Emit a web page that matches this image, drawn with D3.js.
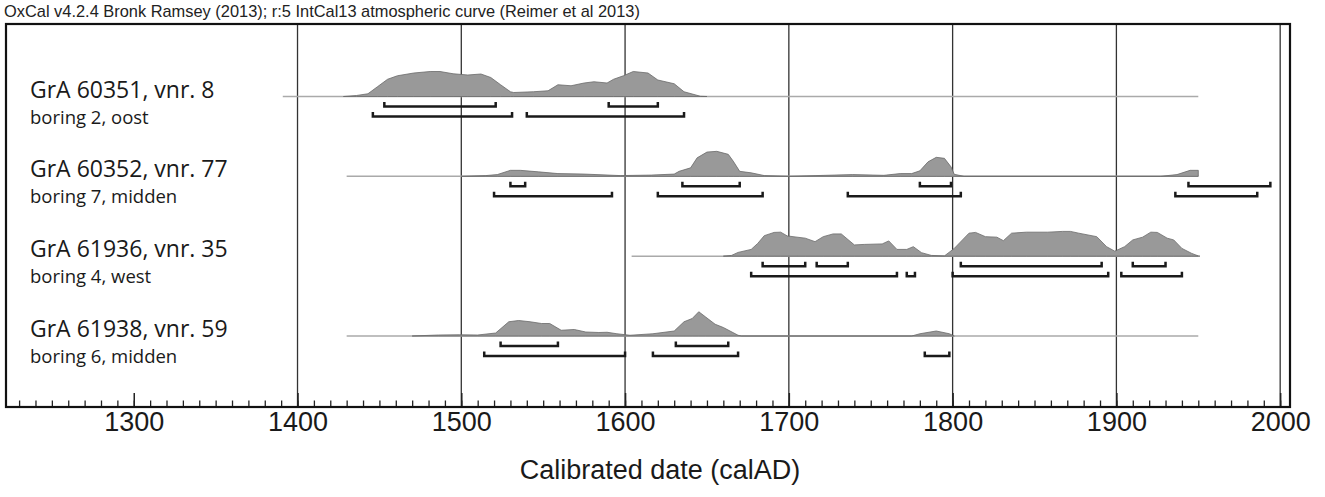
<!DOCTYPE html>
<html>
<head>
<meta charset="utf-8">
<script src="https://cdn.jsdelivr.net/npm/d3@7"></script>
<style>
  body { margin: 0; background: #fff; }
  svg { display: block; }
</style>
</head>
<body>
<svg id="chart" width="1325" height="497"></svg>
<script>
// sample labels
const sampleNames = ["GrA 60351, vnr. 8", "GrA 60352, vnr. 77", "GrA 61936, vnr. 35", "GrA 61938, vnr. 59"];
const sampleSites = ["boring 2, oost", "boring 7, midden", "boring 4, west", "boring 6, midden"];

// extent of the thin base line of each distribution (calAD)
const baseRanges = [[1391, 1950], [1430, 1950], [1604, 1950], [1430, 1950]];

// probability profiles, [year, relative probability]
const prob1 = [[1428, 0], [1436, 0.04], [1443, 0.11], [1449, 0.4], [1455, 0.69], [1461, 0.83], [1471, 0.94], [1481, 1.0],
  [1487, 1.0], [1495, 0.91], [1504, 0.86], [1512, 0.9], [1518, 0.76], [1524, 0.47], [1530, 0.19], [1532, 0.16],
  [1544, 0.19], [1553, 0.23], [1559, 0.47], [1567, 0.43], [1575, 0.54], [1581, 0.59], [1589, 0.54], [1593, 0.69],
  [1599, 0.83], [1605, 1.0], [1614, 0.94], [1620, 0.66], [1630, 0.51], [1636, 0.19], [1646, 0.01], [1650, 0]];
const prob2 = [[1500, 0], [1515, 0.03], [1522, 0.07], [1530, 0.24], [1536, 0.24], [1547, 0.18], [1559, 0.11], [1575, 0.09],
  [1597, 0.03], [1616, 0.05], [1630, 0.09], [1633, 0.2], [1640, 0.34], [1644, 0.74], [1650, 0.97], [1656, 1.0],
  [1663, 0.88], [1666, 0.61], [1670, 0.2], [1677, 0.14], [1685, 0.03], [1700, 0], [1739, 0.07], [1758, 0.04],
  [1768, 0.11], [1775, 0.11], [1780, 0.22], [1785, 0.58], [1790, 0.76], [1795, 0.72], [1799, 0.38], [1801, 0.08],
  [1807, 0], [1927, 0], [1937, 0.07], [1945, 0.24], [1950, 0.24], [1950, 0]];
const prob3 = [[1660, 0], [1665, 0.03], [1669, 0.15], [1677, 0.27], [1681, 0.51], [1685, 0.82], [1691, 0.95], [1695, 0.96],
  [1699, 0.81], [1705, 0.76], [1710, 0.72], [1716, 0.58], [1721, 0.78], [1727, 0.89], [1732, 0.89], [1740, 0.45],
  [1746, 0.47], [1757, 0.49], [1761, 0.61], [1766, 0.27], [1772, 0.27], [1776, 0.38], [1781, 0.14], [1787, 0.03],
  [1795, 0.01], [1801, 0.31], [1810, 0.92], [1814, 0.95], [1820, 0.78], [1827, 0.76], [1831, 0.62], [1836, 0.92],
  [1845, 0.96], [1858, 0.96], [1867, 0.99], [1872, 0.99], [1877, 0.92], [1888, 0.78], [1894, 0.38], [1899, 0.2],
  [1905, 0.38], [1910, 0.65], [1916, 0.76], [1921, 0.96], [1925, 0.95], [1931, 0.72], [1935, 0.65], [1940, 0.31],
  [1946, 0.11], [1950, 0.01], [1951, 0]];
const prob4 = [[1470, 0], [1486, 0.04], [1499, 0.05], [1510, 0.04], [1521, 0.12], [1529, 0.57], [1535, 0.62], [1542, 0.57],
  [1549, 0.5], [1554, 0.5], [1561, 0.23], [1569, 0.26], [1576, 0.16], [1584, 0.14], [1589, 0.15], [1595, 0.09],
  [1603, 0.03], [1617, 0.09], [1630, 0.2], [1636, 0.57], [1641, 0.7], [1645, 0.97], [1649, 0.77], [1655, 0.47],
  [1660, 0.34], [1669, 0.03], [1671, 0], [1775, 0], [1780, 0.09], [1790, 0.2], [1798, 0.09], [1801, 0]];
const profiles = [prob1, prob2, prob3, prob4];

// 68.2% and 95.4% ranges
const ranges68 = [
  [[1453, 1521], [1590, 1620]],
  [[1530, 1539], [1635, 1670], [1780, 1799], [1944, 1994]],
  [[1684, 1710], [1717, 1736], [1805, 1891], [1910, 1930]],
  [[1524, 1559], [1631, 1663]]
];
const ranges95 = [
  [[1446, 1531], [1540, 1636]],
  [[1520, 1592], [1620, 1684], [1736, 1805], [1936, 1986]],
  [[1677, 1766], [1772, 1777], [1800, 1895], [1903, 1940]],
  [[1514, 1600], [1617, 1669], [1783, 1798]]
];

const gridYears = [1400, 1500, 1600, 1700, 1800, 1900, 2000];
const majorTicks = [1300, 1400, 1500, 1600, 1700, 1800, 1900, 2000];
const minorTicks = d3.range(1230, 2001, 10);

const svg = d3.select("#chart");
const frame = { left: 6, right: 1290, top: 24, bottom: 407 };

const x = d3.scaleLinear().domain([1222, 2006]).range([frame.left, frame.right]);
const rowY = d3.scaleLinear().domain([0, 3]).range([96.5, 336]);
const h = d3.scaleLinear().domain([0, 1]).range([0, 25]);

// header
svg.append("text")
  .attr("x", 4).attr("y", 17)
  .attr("font-family", "Liberation Sans, Arial, sans-serif")
  .attr("font-size", 16.4)
  .attr("fill", "#222")
  .text("OxCal v4.2.4 Bronk Ramsey (2013); r:5 IntCal13 atmospheric curve (Reimer et al 2013)");

// grid lines
svg.append("g").selectAll("line")
  .data(gridYears)
  .join("line")
  .attr("x1", d => x(d)).attr("x2", d => x(d))
  .attr("y1", frame.top).attr("y2", frame.bottom)
  .attr("stroke", "#333").attr("stroke-width", 1.3);

const rows = svg.append("g").selectAll("g")
  .data(sampleNames)
  .join("g")
  .attr("transform", (d, i) => `translate(0,${rowY(i)})`);

rows.append("line")
  .attr("x1", (d, i) => x(baseRanges[i][0]))
  .attr("x2", (d, i) => x(baseRanges[i][1]))
  .attr("stroke", "#aaa").attr("stroke-width", 1.5);

const area = d3.area().x(d => x(d[0])).y0(0).y1(d => -h(d[1]));

rows.append("path")
  .attr("d", (d, i) => area(profiles[i]))
  .attr("fill", "#999")
  .attr("stroke", "#6a6a6a")
  .attr("stroke-width", 0.8);

function bracket(r, dy) {
  const a = x(r[0]), b = x(r[1]);
  return `M${a},${dy - 4.5}V${dy}H${b}V${dy - 4.5}`;
}

rows.each(function (d, i) {
  const g = d3.select(this);
  g.selectAll(".r68").data(ranges68[i]).join("path")
    .attr("class", "r68")
    .attr("d", r => bracket(r, 10))
    .attr("fill", "none").attr("stroke", "#1a1a1a").attr("stroke-width", 2.5);
  g.selectAll(".r95").data(ranges95[i]).join("path")
    .attr("class", "r95")
    .attr("d", r => bracket(r, 20))
    .attr("fill", "none").attr("stroke", "#1a1a1a").attr("stroke-width", 2.5);
});

// labels
rows.append("text")
  .attr("x", 30).attr("y", 1)
  .attr("font-family", "Open Sans, sans-serif")
  .attr("font-size", 23)
  .attr("fill", "#1a1a1a")
  .text(d => d);

rows.append("text")
  .attr("x", 30).attr("y", 27)
  .attr("font-family", "Open Sans, sans-serif")
  .attr("font-size", 18.5)
  .attr("fill", "#1a1a1a")
  .text((d, i) => sampleSites[i]);

// axis ticks, pointing up from the bottom frame line
svg.append("g")
  .attr("transform", `translate(0,${frame.bottom})`)
  .call(d3.axisTop(x).tickValues(minorTicks).tickSize(6.5).tickFormat(""))
  .call(g => g.select(".domain").remove())
  .selectAll("line").attr("stroke", "#222").attr("stroke-width", 1.3);

svg.append("g")
  .attr("transform", `translate(0,${frame.bottom})`)
  .call(d3.axisTop(x).tickValues(majorTicks).tickSize(14).tickFormat(""))
  .call(g => g.select(".domain").remove())
  .selectAll("line").attr("stroke", "#222").attr("stroke-width", 1.5);

svg.append("g")
  .attr("transform", `translate(0,${frame.bottom})`)
  .call(d3.axisBottom(x).tickValues(majorTicks).tickSize(0).tickPadding(5).tickFormat(d3.format("d")))
  .call(g => g.select(".domain").remove())
  .selectAll("text")
  .attr("font-family", "Liberation Sans, Arial, sans-serif")
  .attr("font-size", 27)
  .attr("fill", "#1a1a1a");

// frame
svg.append("rect")
  .attr("x", frame.left).attr("y", frame.top)
  .attr("width", frame.right - frame.left).attr("height", frame.bottom - frame.top)
  .attr("fill", "none").attr("stroke", "#111").attr("stroke-width", 2.2);

svg.append("text")
  .attr("x", 660).attr("y", 479)
  .attr("text-anchor", "middle")
  .attr("font-family", "Liberation Sans, Arial, sans-serif")
  .attr("font-size", 27)
  .attr("fill", "#1a1a1a")
  .text("Calibrated date (calAD)");
</script>
</body>
</html>
